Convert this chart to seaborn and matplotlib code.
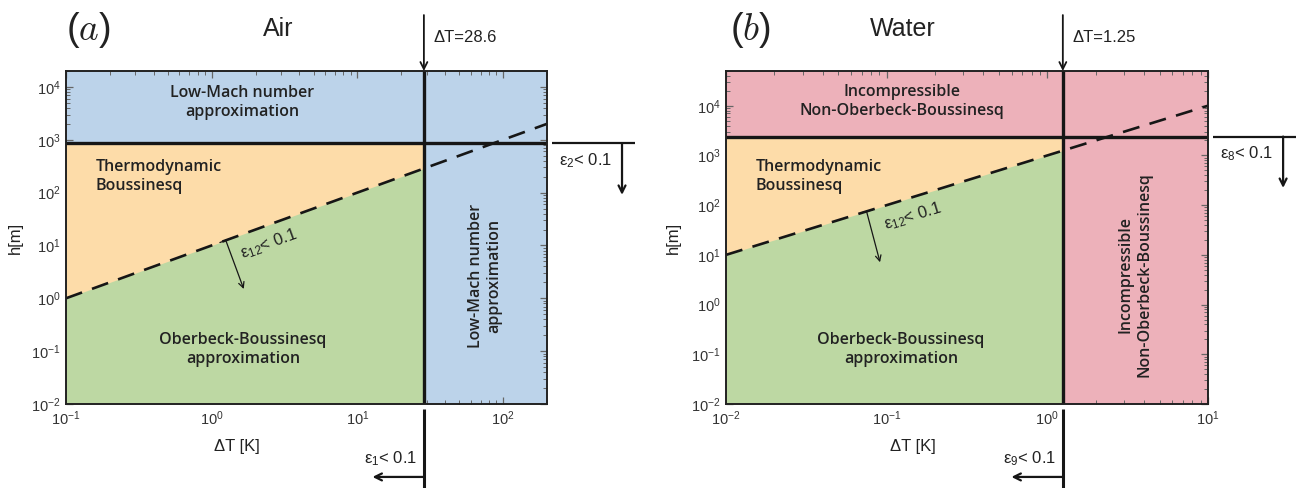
import matplotlib
matplotlib.use("Agg")
import matplotlib.pyplot as plt
import seaborn as sns
import numpy as np
from matplotlib.patches import ArrowStyle
from matplotlib.ticker import LogLocator, NullFormatter

# ---------------- data ----------------
panel_tags = ["a", "b"]
panel_titles = ["Air", "Water"]
x_limits = [(0.1, 200.0), (0.01, 10.0)]
y_limits = [(0.01, 2.0e4), (0.01, 5.0e4)]
dT_crit = [28.6, 1.25]            # vertical critical line
h_crit = [850.0, 2400.0]          # horizontal critical line
dash_x = [[0.1, 28.6, 200.0], [0.01, 1.25, 10.0]]
dash_h = [[1.0, 286.0, 2000.0], [10.0, 1250.0, 10000.0]]
dT_labels = ["ΔT=28.6", "ΔT=1.25"]
eps_right = ["2", "8"]
eps_bottom = ["1", "9"]
eps_inner = "12"
top_labels = ["Low-Mach number\napproximation", "Incompressible\nNon-Oberbeck-Boussinesq"]
right_labels = ["Low-Mach number\napproximation", "Incompressible\nNon-Oberbeck-Boussinesq"]
thermo_label = "Thermodynamic\nBoussinesq"
ob_label = "Oberbeck-Boussinesq\napproximation"
# inner epsilon_12 arrow: start (on dashed line), end, label position (data)
eps12_start = [(1.25, 12.5), (0.075, 75.0)]
eps12_end = [(1.66, 1.5), (0.091, 7.1)]
eps12_text = [(2.47, 10.6), (0.146, 60.0)]

# ---------------- style ----------------
col_bg = ["#BCD3EA", "#EDB1BA"]
col_orange = "#FDDCA9"
col_green = "#BDD8A3"
ink = "#161616"

sns.set_style("ticks")
plt.rcParams['font.family'] = ['Liberation Sans', 'DejaVu Sans']
plt.rcParams['mathtext.fontset'] = 'custom'
plt.rcParams['mathtext.rm'] = 'Liberation Sans'
plt.rcParams['mathtext.it'] = 'Liberation Sans:italic'
plt.rcParams['mathtext.default'] = 'regular'

region_font = dict(family=['Open Sans', 'DejaVu Sans'], weight='semibold', size=11.5, color='#222222')

fig = plt.figure(figsize=(12.98, 4.88), dpi=100)
ax_rects = [[0.0508, 0.1721, 0.3706, 0.6824], [0.5593, 0.1721, 0.3713, 0.6824]]
xlabel_pos = [0.355, 0.388]
ylabel_pos = [-0.106, -0.110]
top_label_pos = [(0.366, 0.905), (0.365, 0.907)]
thermo_pos = [(0.062, 0.682), (0.062, 0.682)]
ob_pos = [(0.368, 0.165), (0.363, 0.165)]
right_pos = [(0.871, 0.386), (0.849, 0.388)]
rot_inner = [20, 17]
title_pos = [((0.0678, 0.9385), (0.2142, 0.9406)), ((0.5778, 0.9385), (0.6957, 0.9406))]

for i in range(2):
    ax = fig.add_axes(ax_rects[i])
    ax.set_xscale('log')
    ax.set_yscale('log')
    xmin, xmax = x_limits[i]
    ymin, ymax = y_limits[i]
    ax.set_xlim(xmin, xmax)
    ax.set_ylim(ymin, ymax)
    ax.set_facecolor(col_bg[i])

    # regions
    ax.fill_between([xmin, dT_crit[i]], [ymin, ymin], [h_crit[i], h_crit[i]],
                    color=col_orange, lw=0, zorder=1)
    ax.fill_between(dash_x[i][:2], [ymin, ymin], dash_h[i][:2],
                    color=col_green, lw=0, zorder=1.1)

    # dashed epsilon_12 line
    sns.lineplot(x=dash_x[i], y=dash_h[i], ax=ax, color=ink, lw=1.9,
                 linestyle=(0, (6.5, 4)), zorder=4, sort=False, estimator=None)

    # critical lines
    ax.axhline(h_crit[i], color=ink, lw=2.4, zorder=3)
    ax.axvline(dT_crit[i], color=ink, lw=2.4, zorder=3)

    # ticks
    ax.xaxis.set_major_locator(LogLocator(base=10, numticks=20))
    ax.yaxis.set_major_locator(LogLocator(base=10, numticks=20))
    ax.xaxis.set_minor_locator(LogLocator(base=10, subs=np.arange(2, 10), numticks=200))
    ax.yaxis.set_minor_locator(LogLocator(base=10, subs=np.arange(2, 10), numticks=200))
    ax.xaxis.set_minor_formatter(NullFormatter())
    ax.yaxis.set_minor_formatter(NullFormatter())
    ax.tick_params(which='both', direction='in', top=True, right=True,
                   color='#666666', labelcolor='#333333', labelsize=10.5)
    ax.tick_params(which='major', length=5, width=0.9, pad=4)
    ax.tick_params(which='minor', length=3, width=0.7)
    for s in ax.spines.values():
        s.set_color('#222222')
        s.set_linewidth(1.4)
        s.set_zorder(5)

    ax.set_xlabel("ΔT [K]", fontsize=12, color='#222222')
    ax.xaxis.label.set_va('center')
    ax.xaxis.set_label_coords(xlabel_pos[i], -0.129)
    ax.set_ylabel("h[m]", fontsize=12, color='#222222')
    ax.yaxis.label.set_va('center')
    ax.yaxis.set_label_coords(ylabel_pos[i], 0.5)

    # region labels
    ax.text(*top_label_pos[i], top_labels[i], transform=ax.transAxes, ha='center', va='center',
            multialignment='center', linespacing=1.25, zorder=6, **region_font)
    ax.text(*thermo_pos[i], thermo_label, transform=ax.transAxes, ha='left', va='center',
            multialignment='left', linespacing=1.25, zorder=6, **region_font)
    ax.text(*ob_pos[i], ob_label, transform=ax.transAxes, ha='center', va='center',
            multialignment='center', linespacing=1.25, zorder=6, **region_font)
    ax.text(*right_pos[i], right_labels[i], transform=ax.transAxes, ha='center', va='center',
            rotation=90, multialignment='center', linespacing=1.2, zorder=6, **region_font)

    # inner epsilon_12 arrow and label
    ax.annotate("", xy=eps12_end[i], xytext=eps12_start[i], xycoords='data',
                arrowprops=dict(arrowstyle=ArrowStyle("]->", widthA=0.45, lengthA=0.0),
                                lw=0.9, color=ink, shrinkA=0, shrinkB=0, mutation_scale=10),
                zorder=6)
    ax.text(*eps12_text[i], "ε$_{\\mathit{" + eps_inner + "}}$< 0.1", ha='center', va='center',
            rotation=rot_inner[i], fontsize=12, color='#222222', zorder=6)

    xt = ax.get_xaxis_transform()
    yt = ax.get_yaxis_transform()
    # top arrow with dT label
    ax.annotate("", xy=(dT_crit[i], 1.0), xytext=(dT_crit[i], 1.168), xycoords=xt, textcoords=xt,
                arrowprops=dict(arrowstyle=ArrowStyle("->", head_length=0.5, head_width=0.25),
                                lw=1.3, color=ink, shrinkA=0, shrinkB=0),
                annotation_clip=False)
    ax.annotate(dT_labels[i], xy=(dT_crit[i], 1.102), xycoords=xt, xytext=(7, 0),
                textcoords='offset points', ha='left', va='center', fontsize=12, color='#222222',
                annotation_clip=False)
    # bottom line with left arrow
    ax.plot([dT_crit[i], dT_crit[i]], [-0.015, -0.26], transform=xt, clip_on=False,
            color=ink, lw=2.2, solid_capstyle='butt')
    ax.annotate("", xy=(dT_crit[i], -0.219), xycoords=xt, xytext=(-37, 0), textcoords='offset points',
                arrowprops=dict(arrowstyle=ArrowStyle("<-", head_length=0.5, head_width=0.25),
                                lw=1.6, color=ink, shrinkA=0, shrinkB=0),
                annotation_clip=False)
    ax.annotate("ε$_{\\mathit{" + eps_bottom[i] + "}}$< 0.1", xy=(dT_crit[i], -0.165), xycoords=xt,
                xytext=(-5, 0), textcoords='offset points', ha='right', va='center',
                fontsize=12, color='#222222', annotation_clip=False)
    # right-hand line with down arrow
    ax.plot([1.010, 1.183], [h_crit[i], h_crit[i]], transform=yt, clip_on=False,
            color=ink, lw=1.6, solid_capstyle='butt')
    ax.annotate("", xy=(1.156, h_crit[i]), xycoords=yt, xytext=(0, -37), textcoords='offset points',
                arrowprops=dict(arrowstyle=ArrowStyle("<-", head_length=0.5, head_width=0.25),
                                lw=1.6, color=ink, shrinkA=0, shrinkB=0),
                annotation_clip=False)
    ax.annotate("ε$_{\\mathit{" + eps_right[i] + "}}$< 0.1", xy=(1.025, h_crit[i]), xycoords=yt,
                xytext=(0, -12), textcoords='offset points', ha='left', va='center',
                fontsize=12, color='#222222', annotation_clip=False)

    # panel tag and title
    (tx, ty), (sx, sy) = title_pos[i]
    fig.text(tx, ty, r"$(\mathit{" + panel_tags[i] + r"})$", math_fontfamily='cm', fontsize=27,
             ha='center', va='center', color='#222222')
    fig.text(sx, sy, panel_titles[i], fontsize=18, ha='center', va='center', color='#222222')

fig.savefig("out.png", dpi=100)
